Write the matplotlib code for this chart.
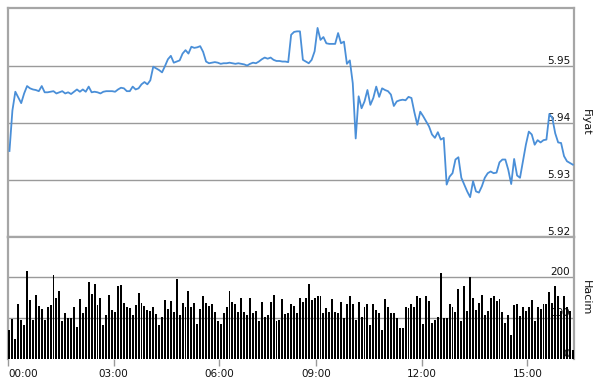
import matplotlib
matplotlib.use("Agg")
import matplotlib.pyplot as plt
import matplotlib.transforms as mtransforms

# ---------------- data ----------------
price = [
    5.9351, 5.9422, 5.9455, 5.9445, 5.9435, 5.9452, 5.9465, 5.9461, 5.9459, 5.9458,
    5.9456, 5.9465, 5.9454, 5.9454, 5.9455, 5.9456, 5.9452, 5.9454, 5.9456, 5.9452,
    5.9454, 5.9451, 5.9455, 5.9459, 5.9455, 5.9459, 5.9455, 5.9464, 5.9454, 5.9455,
    5.9454, 5.9452, 5.9455, 5.9456, 5.9456, 5.9456, 5.9455, 5.9459, 5.9462, 5.9461,
    5.9456, 5.9456, 5.9464, 5.9459, 5.9461, 5.9468, 5.9472, 5.9468, 5.9475, 5.9499,
    5.9496, 5.9493, 5.9489, 5.9500, 5.9512, 5.9518, 5.9506, 5.9508, 5.9510, 5.9522,
    5.9528, 5.9522, 5.9534, 5.9532, 5.9533, 5.9535, 5.9525, 5.9508, 5.9505, 5.9506,
    5.9507, 5.9506, 5.9504, 5.9505, 5.9505, 5.9506, 5.9505, 5.9504, 5.9505, 5.9504,
    5.9503, 5.9501, 5.9504, 5.9506, 5.9505, 5.9508, 5.9512, 5.9515, 5.9513, 5.9515,
    5.9511, 5.9509, 5.9509, 5.9508, 5.9508, 5.9507, 5.9555, 5.9560, 5.9561, 5.9561,
    5.9511, 5.9508, 5.9505, 5.9511, 5.9526, 5.9567, 5.9546, 5.9551, 5.9540, 5.9539,
    5.9539, 5.9539, 5.9558, 5.9540, 5.9543, 5.9504, 5.9510, 5.9470, 5.9373, 5.9447,
    5.9426, 5.9438, 5.9458, 5.9432, 5.9444, 5.9464, 5.9446, 5.9461, 5.9458, 5.9456,
    5.9450, 5.9430, 5.9438, 5.9440, 5.9441, 5.9440, 5.9446, 5.9444, 5.9419, 5.9397,
    5.9420, 5.9412, 5.9403, 5.9394, 5.9380, 5.9374, 5.9384, 5.9371, 5.9374, 5.9292,
    5.9306, 5.9312, 5.9336, 5.9340, 5.9304, 5.9292, 5.9280, 5.9270, 5.9298, 5.9280,
    5.9278, 5.9289, 5.9304, 5.9312, 5.9315, 5.9312, 5.9313, 5.9331, 5.9336, 5.9336,
    5.9318, 5.9293, 5.9337, 5.9308, 5.9304, 5.9333, 5.9362, 5.9385, 5.9380, 5.9362,
    5.9370, 5.9366, 5.9370, 5.9371, 5.9416, 5.9409, 5.9382, 5.9366, 5.9365, 5.9342,
    5.9333, 5.9330, 5.9327,
]

volume = [
    70, 98, 50, 135, 96, 82, 214, 143, 94, 155,
    129, 123, 94, 128, 131, 204, 149, 167, 93, 111,
    100, 100, 128, 77, 146, 111, 128, 189, 159, 182,
    131, 149, 82, 107, 155, 119, 115, 177, 180, 136,
    128, 124, 107, 131, 160, 137, 129, 120, 116, 128,
    109, 82, 102, 145, 123, 141, 114, 194, 108, 136,
    126, 167, 126, 136, 85, 123, 153, 136, 129, 133,
    115, 92, 86, 111, 128, 167, 138, 133, 114, 148,
    114, 107, 148, 111, 116, 93, 138, 102, 107, 138,
    155, 92, 94, 146, 109, 111, 133, 130, 111, 150,
    138, 148, 182, 143, 150, 154, 153, 111, 124, 114,
    146, 114, 111, 138, 101, 133, 153, 133, 94, 138,
    102, 128, 133, 82, 133, 119, 111, 70, 146, 128,
    111, 111, 101, 76, 76, 126, 124, 133, 126, 154,
    148, 86, 153, 141, 89, 94, 102, 211, 99, 99,
    133, 126, 114, 170, 92, 177, 118, 199, 148, 119,
    136, 155, 107, 116, 150, 153, 141, 146, 114, 89,
    107, 58, 131, 133, 104, 126, 116, 128, 143, 92,
    128, 121, 135, 135, 163, 136, 177, 153, 116, 153,
    128, 116, 22,
]

tick_labels = ["00:00", "03:00", "06:00", "09:00", "12:00", "15:00"]
tick_index = [0, 36, 72, 105, 141, 177]   # slot index where each hour starts

price_ticks = [5.92, 5.93, 5.94, 5.95]
price_labels = ["5.92", "5.93", "5.94", "5.95"]
vol_ticks = [0, 100, 200]
vol_labels = ["0", "100", "200"]

# ---------------- figure ----------------
W, H = 596, 386
fig = plt.figure(figsize=(W / 100, H / 100), dpi=100)
plt.rcParams['font.family'] = ['DejaVu Sans']

GRID = '#9a9a9a'
FRAME = '#a6a6a6'
LINE = '#4a8fd8'

def fx(px):
    return px / W

def fy(py):
    return 1 - py / H

left, right = 8, 574
ax_p = fig.add_axes([fx(left), fy(237), fx(right - left), fy(8) - fy(237)])
ax_v = fig.add_axes([fx(left), fy(359), fx(right - left), fy(237) - fy(359)], sharex=ax_p)

n = len(price)
xs = list(range(n))

# price panel
ax_p.plot(xs, price, color=LINE, lw=1.3, zorder=3, solid_joinstyle='round')
ax_p.set_ylim(5.92, 5.9602)
for t in price_ticks[1:]:
    ax_p.axhline(t, color=GRID, lw=1.0, zorder=1)
trans_p = mtransforms.blended_transform_factory(ax_p.transAxes, ax_p.transData)
for t, lab in zip(price_ticks, price_labels):
    ax_p.text(0.993, t, lab, transform=trans_p, ha='right', va='bottom',
              fontsize=7.5, color='#111111', zorder=2)
ax_p.set_yticks([])
ax_p.tick_params(axis='x', which='both', bottom=False, labelbottom=False)
for s in ax_p.spines.values():
    s.set_color(FRAME)
    s.set_linewidth(1.6)

# volume panel
nv = len(volume)
ax_v.bar(list(range(nv)), volume, width=0.66, color='black', zorder=3)
ax_v.set_ylim(0, 297.6)
ax_v.axhline(200, color=GRID, lw=1.0, zorder=1)
ax_v.axhline(100, color=GRID, lw=1.0, zorder=1)
trans_v = mtransforms.blended_transform_factory(ax_v.transAxes, ax_v.transData)
for t, lab in zip(vol_ticks, vol_labels):
    ax_v.text(0.993, t, lab, transform=trans_v, ha='right', va='bottom',
              fontsize=7.5, color='#111111', zorder=2)
ax_v.set_yticks([])
ax_v.set_xlim(-0.5, 192.4)
ax_v.set_xticks([i - 0.5 for i in tick_index])
ax_v.set_xticklabels(tick_labels)
ax_v.tick_params(axis='x', length=5, width=1.0, color=GRID, pad=2,
                 labelsize=7.5, labelcolor='#111111')
ax_v.get_xticklabels()[0].set_horizontalalignment('left')
for k, s in ax_v.spines.items():
    s.set_color(FRAME)
    s.set_linewidth(1.6)
ax_v.spines['bottom'].set_visible(False)

# right side axis titles
fig.text(fx(586), fy(122), "Fiyat", rotation=-90, ha='center', va='center',
         fontsize=8, color='#111111')
fig.text(fx(586), fy(298), "Hacim", rotation=-90, ha='center', va='center',
         fontsize=8, color='#111111')

fig.savefig("out.png", dpi=100)
